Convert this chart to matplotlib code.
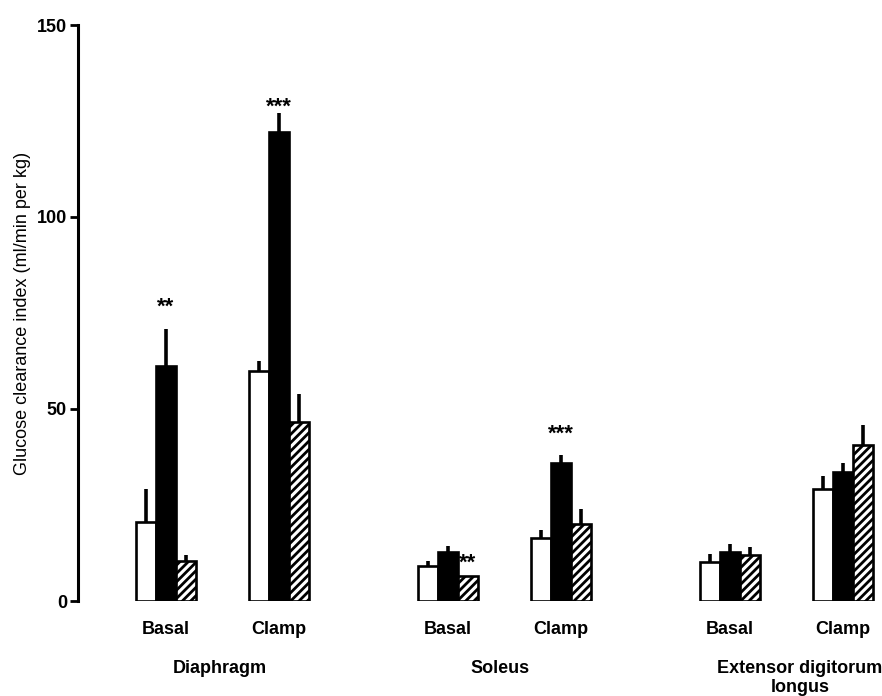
import matplotlib
matplotlib.use("Agg")
import matplotlib.pyplot as plt
import numpy as np

plt.rcParams['font.family'] = ['Liberation Sans', 'DejaVu Sans']
plt.rcParams['hatch.linewidth'] = 2.0

muscles = ["Diaphragm", "Soleus", "Extensor digitorum\nlongus"]
conditions = ["Basal", "Clamp"]
# order of groups: Diaphragm Basal, Diaphragm Clamp, Soleus Basal, Soleus Clamp, EDL Basal, EDL Clamp
white_mean = [20.6, 60.0, 9.1, 16.4, 10.2, 29.2]
white_err = [8.6, 2.5, 1.3, 2.1, 2.0, 3.3]
black_mean = [61.2, 122.2, 12.8, 36.0, 12.8, 33.6]
black_err = [9.6, 4.8, 1.5, 2.0, 2.0, 2.3]
hatch_mean = [10.4, 46.6, 6.5, 20.0, 12.0, 40.6]
hatch_err = [1.6, 7.4, 0.0, 4.0, 2.0, 5.2]
# significance marks: (group index, series index, label, value position)
sig_group = [0, 1, 2, 3]
sig_series = [1, 1, 2, 1]
sig_text = ["**", "***", "**", "***"]
sig_y = [76.5, 128.5, 9.8, 43.5]

W, H = 882, 696
fig = plt.figure(figsize=(W / 100, H / 100), dpi=100)
ax = fig.add_axes([78 / W, (H - 601) / H, (W - 78) / W, 576 / H])

# layout (in pixel-like x units)
bw = 20.0
centers = []
for m in range(3):
    for c in range(2):
        centers.append(166 + m * 282 + c * 113)
centers = np.array(centers, dtype=float)
offsets = [-bw, 0.0, bw]

lw = 1.9
series = [
    (white_mean, white_err, dict(facecolor="white", edgecolor="black", hatch=None)),
    (black_mean, black_err, dict(facecolor="black", edgecolor="black", hatch=None)),
    (hatch_mean, hatch_err, dict(facecolor="white", edgecolor="black", hatch="////")),
]
for (mean, err, style), off in zip(series, offsets):
    x = centers + off
    ax.errorbar(x, mean, yerr=[np.zeros(len(mean)), err], fmt="none",
                ecolor="black", elinewidth=2.6, capsize=0, zorder=1)
    ax.bar(x, mean, width=bw, linewidth=lw, zorder=2, **style)

for g, s, t, yv in zip(sig_group, sig_series, sig_text, sig_y):
    ax.text(centers[g] + offsets[s], yv, t, ha="center", va="center",
            fontsize=16, fontweight="bold", color="black")

ax.set_xlim(78, W)
ax.set_ylim(0, 150)
ax.set_yticks([0, 50, 100, 150])
ax.set_yticklabels(["0", "50", "100", "150"], fontsize=13, fontweight="bold")
ax.tick_params(axis="y", direction="out", length=6, width=2, pad=2)
ax.set_xticks([])
for sp in ["top", "right", "bottom"]:
    ax.spines[sp].set_visible(False)
ax.spines["left"].set_linewidth(2.2)
ax.set_ylabel("Glucose clearance index (ml/min per kg)", fontsize=13, labelpad=4)

# condition labels
for i, cx in enumerate(centers):
    ax.text(cx, -7.5, conditions[i % 2], ha="center", va="center",
            fontsize=13, fontweight="bold", clip_on=False)
# muscle labels
muscle_x = [220, 500, 800]
for mx, name in zip(muscle_x, muscles):
    ax.text(mx, -15.3, name, ha="center", va="top",
            fontsize=13, fontweight="bold", clip_on=False, linespacing=1.15)

fig.savefig("out.png", dpi=100)
